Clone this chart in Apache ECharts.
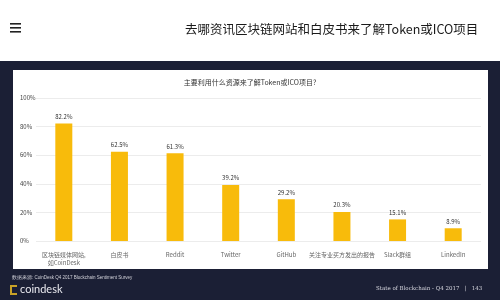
<!DOCTYPE html>
<html>
<head>
<meta charset="utf-8">
<script src="https://cdn.jsdelivr.net/npm/echarts@6/dist/echarts.min.js"></script>
<style>
html,body{margin:0;padding:0;width:500px;height:300px;overflow:hidden;background:#1b1f35;}
#topbar{position:absolute;left:0;top:0;width:500px;height:61px;background:#ffffff;}
#panel{position:absolute;left:13px;top:70px;width:475px;height:199px;background:#ffffff;}
#chart{position:absolute;left:0;top:0;width:500px;height:300px;}
</style>
</head>
<body>
<div id="topbar"></div>
<div id="panel"></div>
<div id="chart"></div>
<script>
const categories = ['区块链媒体网站,\n如CoinDesk', '白皮书', 'Reddit', 'Twitter', 'GitHub', '关注专业买方发出的报告', 'Slack群组', 'LinkedIn'];
const values = [82.2, 62.5, 61.3, 39.2, 29.2, 20.3, 15.1, 8.9];
const yTicks = [0, 20, 40, 60, 80, 100];
const pageTitle = '去哪资讯区块链网站和白皮书来了解Token或ICO项目';
const chartTitle = '主要利用什么资源来了解Token或ICO项目?';
const sourceText = '数据来源: CoinDesk Q4 2017 Blockchain Sentiment Survey';
const footerText = 'State of Blockchain - Q4 2017   |   143';

const chart = echarts.init(document.getElementById('chart'), null, {renderer: 'canvas'});
chart.setOption({
  backgroundColor: 'transparent',
  animation: false,
  textStyle: {fontFamily: '"Noto Sans CJK SC", "Noto Sans", sans-serif'},
  grid: {left: 36, right: 19, top: 98, bottom: 59, containLabel: false},
  xAxis: {
    type: 'category',
    data: categories,
    axisLine: {show: false},
    axisTick: {show: false},
    axisLabel: {fontSize: 6, color: '#666', margin: 10, interval: 0, lineHeight: 8}
  },
  yAxis: {
    type: 'value',
    min: yTicks[0],
    max: yTicks[yTicks.length - 1],
    interval: 20,
    axisLine: {show: false},
    axisTick: {show: false},
    axisLabel: {fontSize: 6, color: '#444', formatter: '{value}%', align: 'left', margin: 16},
    splitLine: {lineStyle: {color: '#ececec', width: 1}}
  },
  series: [{
    type: 'bar',
    data: values,
    barWidth: 17,
    itemStyle: {color: '#f8bb0b'},
    label: {show: true, position: 'top', fontSize: 6, color: '#333', formatter: '{c}%', distance: 4}
  }],
  graphic: [
    {type: 'group', left: 10, top: 23, children: [
      {type: 'rect', shape: {x: 0, y: 0, width: 11, height: 1.6}, style: {fill: '#222'}},
      {type: 'rect', shape: {x: 0, y: 4, width: 11, height: 1.6}, style: {fill: '#222'}},
      {type: 'rect', shape: {x: 0, y: 8, width: 11, height: 1.6}, style: {fill: '#222'}}
    ]},
    {type: 'text', left: 185, top: 23, style: {text: pageTitle, fontSize: 12.5, fill: '#1a1a1a', fontFamily: '"Noto Sans CJK SC", sans-serif'}},
    {type: 'text', left: 'center', top: 79, style: {text: chartTitle, fontSize: 7, fill: '#333', fontFamily: '"Noto Sans CJK SC", sans-serif'}},
    {type: 'text', left: 12, top: 275, style: {text: sourceText, fontSize: 4.5, fill: '#d0d0d8'}},
    {type: 'group', left: 10, top: 284, children: [
      {type: 'rect', shape: {x: 0, y: 1, width: 7, height: 10}, style: {fill: '#c9a227'}},
      {type: 'rect', shape: {x: 2, y: 3, width: 5, height: 6}, style: {fill: '#1b1f35'}},
      {type: 'text', x: 10, y: 0, style: {text: 'coindesk', fontSize: 11, fill: '#e8e8ee', fontFamily: 'Lato, sans-serif'}}
    ]},
    {type: 'text', left: 376, top: 286, style: {text: footerText, fontSize: 5.5, fill: '#d8d8e0', fontFamily: '"DejaVu Serif", serif'}}
  ]
});
</script>
</body>
</html>
